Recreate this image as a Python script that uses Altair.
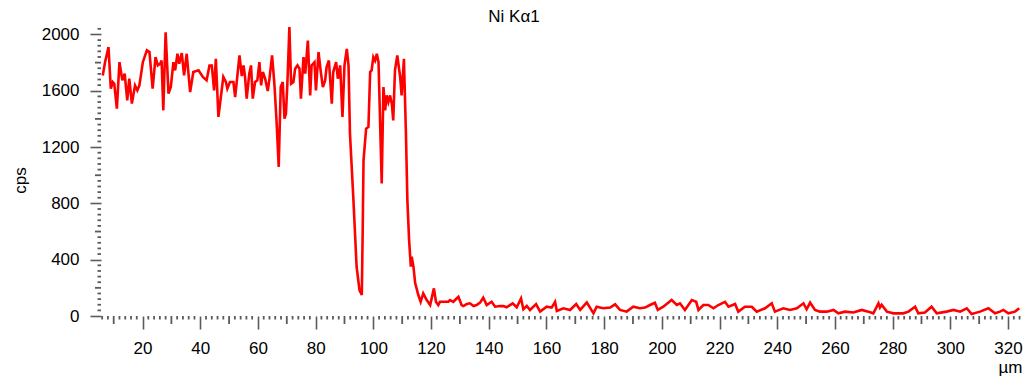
import altair as alt
import pandas as pd

# Line scan of the Ni K-alpha1 signal: position (µm) and count rate (cps)
um = [
    6.2, 7.0, 8.2, 9.0, 9.7, 10.2, 11.1, 12.0, 13.0, 13.8, 14.7, 15.4, 16.3, 17.4,
    18.2, 18.9, 20.1, 21.5, 22.4, 23.5, 24.5, 25.3, 26.1, 26.6, 27.2, 28.0, 29.0,
    29.8, 30.7, 31.3, 32.1, 32.7, 33.6, 34.4, 35.3, 36.5, 37.6, 39.4, 40.9, 42.2,
    43.2, 44.0, 44.8, 45.4, 46.3, 48.0, 48.9, 49.4, 50.3, 51.5, 52.1, 53.6, 54.4,
    55.0, 55.5, 56.1, 57.0, 57.6, 58.2, 59.0, 59.8, 60.5, 61.1, 61.7, 62.5, 63.4,
    64.0, 64.9, 65.7, 66.5, 67.2, 67.9, 68.6, 69.2, 69.7, 70.2, 70.9, 71.5, 72.3,
    72.9, 73.7, 74.4, 74.9, 75.8, 76.4, 77.3, 78.1, 78.6, 79.6, 80.1, 81.0, 81.8,
    82.5, 83.3, 83.8, 84.6, 85.6, 86.1, 87.1, 87.7, 88.5, 89.3, 90.0, 90.8, 91.4,
    91.9, 93.1, 94.2, 95.2, 96.0, 96.3, 96.6, 97.5, 98.3, 98.9, 99.4, 100.0, 100.6,
    101.2, 101.8, 102.9, 103.5, 104.1, 104.6, 105.2, 105.8, 106.4, 106.9, 107.5,
    108.3, 109.3, 109.8, 110.6, 111.3, 111.8, 112.4, 113.0, 113.3, 113.9, 114.5,
    115.6, 116.4, 117.3, 118.5, 119.7, 121.0, 121.7, 122.5, 123.1, 124.3, 126.0,
    126.6, 127.7, 129.5, 130.6, 131.2, 132.4, 133.5, 134.7, 135.8, 137.0, 138.1,
    139.3, 141.0, 142.2, 143.9, 145.1, 146.2, 148.3, 149.7, 151.2, 152.0, 153.2,
    154.3, 156.4, 157.8, 160.1, 161.8, 163.0, 163.6, 165.9, 168.2, 170.3, 171.7,
    174.0, 176.3, 177.4, 179.7, 182.1, 183.8, 185.5, 187.8, 190.1, 192.4, 194.2,
    195.9, 197.6, 198.6, 200.5, 203.4, 205.2, 206.3, 208.0, 210.4, 211.9, 212.7,
    214.4, 216.1, 217.9, 219.6, 221.9, 223.1, 225.4, 226.5, 228.8, 231.2, 232.9,
    235.8, 238.1, 239.2, 242.1, 244.4, 246.8, 249.1, 250.2, 251.4, 253.1, 254.8,
    257.2, 259.5, 261.2, 263.5, 266.4, 269.3, 271.6, 273.3, 275.1, 275.6, 276.2,
    278.0, 280.3, 283.7, 285.5, 287.8, 288.9, 291.2, 293.5, 295.3, 298.7, 301.1,
    303.4, 305.7, 307.4, 310.3, 313.2, 315.5, 317.2, 318.4, 320.1, 322.4, 323.9,
]
cps = [
    1709, 1803, 1910, 1615, 1662, 1650, 1473, 1803, 1674, 1721, 1532, 1686, 1509, 1638,
    1603, 1638, 1803, 1887, 1875, 1615, 1839, 1780, 1792, 1815, 1461, 2016, 1580,
    1627, 1803, 1745, 1863, 1792, 1868, 1709, 1863, 1591, 1733, 1745, 1698, 1674,
    1780, 1780, 1603, 1827, 1414, 1698, 1662, 1615, 1662, 1662, 1555, 1851, 1704,
    1780, 1704, 1544, 1721, 1780, 1544, 1662, 1674, 1803, 1638, 1733, 1686, 1598,
    1686, 1851, 1650, 1366, 1059, 1626, 1662, 1402, 1437, 1650, 2052, 1650, 1662,
    1757, 1780, 1757, 1544, 1839, 1721, 1957, 1567, 1780, 1803, 1603, 1875, 1733,
    1626, 1674, 1768, 1815, 1508, 1733, 1803, 1686, 1780, 1414, 1780, 1898, 1780,
    1296, 823, 350, 184, 149, 587, 1106, 1331, 1343, 1733, 1745, 1839, 1815,
    1863, 1803, 941, 1626, 1461, 1567, 1520, 1567, 1508, 1390, 1745,
    1851, 1698, 1567, 1827, 1296, 823, 539, 350, 421, 350, 234,
    149, 101, 161, 113, 78, 196, 101, 78, 101, 101, 101,
    113, 101, 137, 78, 71, 85, 90, 71, 78, 95, 130,
    78, 101, 66, 71, 70, 62, 90, 62, 125, 48, 71,
    43, 85, 31, 66, 60, 101, 36, 55, 43, 85, 43,
    97, 19, 66, 55, 60, 83, 43, 31, 66, 55, 60,
    78, 94, 43, 66, 113, 78, 90, 43, 113, 101, 43,
    78, 78, 55, 78, 101, 66, 85, 31, 66, 66, 31,
    55, 90, 31, 55, 43, 55, 90, 48, 95, 43, 31,
    31, 43, 19, 31, 25, 43, 31, 19, 90, 60, 80,
    31, 19, 19, 31, 66, 19, 25, 66, 19, 31, 43,
    31, 55, 14, 31, 55, 19, 31, 43, 19, 31, 55,
]

# Axis tick positions
x_major = list(range(20, 321, 20))
x_mid = list(range(10, 321, 20))
x_small = [v for v in range(6, 325, 2) if v % 10 != 0]
y_major = list(range(0, 2001, 400))
y_mid = list(range(200, 2001, 400))
y_small = [v for v in range(40, 2041, 40) if v % 200 != 0]

chart_title = ["Ni Kα1"]

W, H = 920, 289
FONT = "Liberation Sans"
FS = 17
TICK = "#5a5a5a"

xs = alt.Scale(domain=[5.6, 324.5], nice=False, zero=False)
ys = alt.Scale(domain=[0, 2053], nice=False, zero=False)

x_axis = alt.Axis(
    values=x_major, format="d", domain=False, grid=False,
    tickSize=13, tickWidth=1.6, tickColor=TICK,
    labelFont=FONT, labelFontSize=FS, labelColor="#000", labelPadding=11,
    title="µm", titleFont=FONT, titleFontSize=FS, titleFontWeight="normal",
    titleColor="#000", titleAnchor="end", titleAlign="right",
    titleBaseline="alphabetic", titleX=W + 1, titleY=56,
)
y_axis = alt.Axis(
    values=y_major, format="d", domain=False, grid=False,
    tickSize=11, tickWidth=1.6, tickColor=TICK,
    labelFont=FONT, labelFontSize=FS, labelColor="#000", labelPadding=11,
    title="cps", titleFont=FONT, titleFontSize=FS, titleFontWeight="normal",
    titleColor="#000", titleAngle=-90, titleAlign="center",
    titleBaseline="middle", titleX=-81, titleY=153,
)

scan = pd.DataFrame({"um": um, "cps": cps})

line = alt.Chart(scan).mark_line(color="#ff0000", strokeWidth=2.6).encode(
    x=alt.X("um:Q", scale=xs, axis=x_axis),
    y=alt.Y("cps:Q", scale=ys, axis=y_axis),
)


def x_ticks(values, length):
    return alt.Chart(pd.DataFrame({"um": values})).mark_rule(
        color=TICK, strokeWidth=1.8
    ).encode(
        x=alt.X("um:Q", scale=xs, axis=x_axis),
        y=alt.value(H),
        y2=alt.value(H + length),
    )


def y_ticks(values, length):
    return alt.Chart(pd.DataFrame({"cps": values})).mark_rule(
        color=TICK, strokeWidth=1.8
    ).encode(
        y=alt.Y("cps:Q", scale=ys, axis=y_axis),
        x=alt.value(0),
        x2=alt.value(-length),
    )


title_text = alt.Chart(pd.DataFrame({"t": chart_title})).mark_text(
    font=FONT, fontSize=FS, color="#000", align="center", baseline="alphabetic"
).encode(
    text="t:N",
    x=alt.value(413),
    y=alt.value(-5),
)

chart = alt.layer(
    x_ticks(x_small, 3.5),
    x_ticks(x_mid, 8),
    y_ticks(y_small, 3.5),
    y_ticks(y_mid, 6),
    line,
    title_text,
).properties(
    width=W,
    height=H,
    padding={"left": 101, "top": 27, "right": 8, "bottom": 60},
    autosize="none",
).configure_view(stroke=None)

chart.save("out.html", embed_options={"renderer": "svg", "actions": False})
